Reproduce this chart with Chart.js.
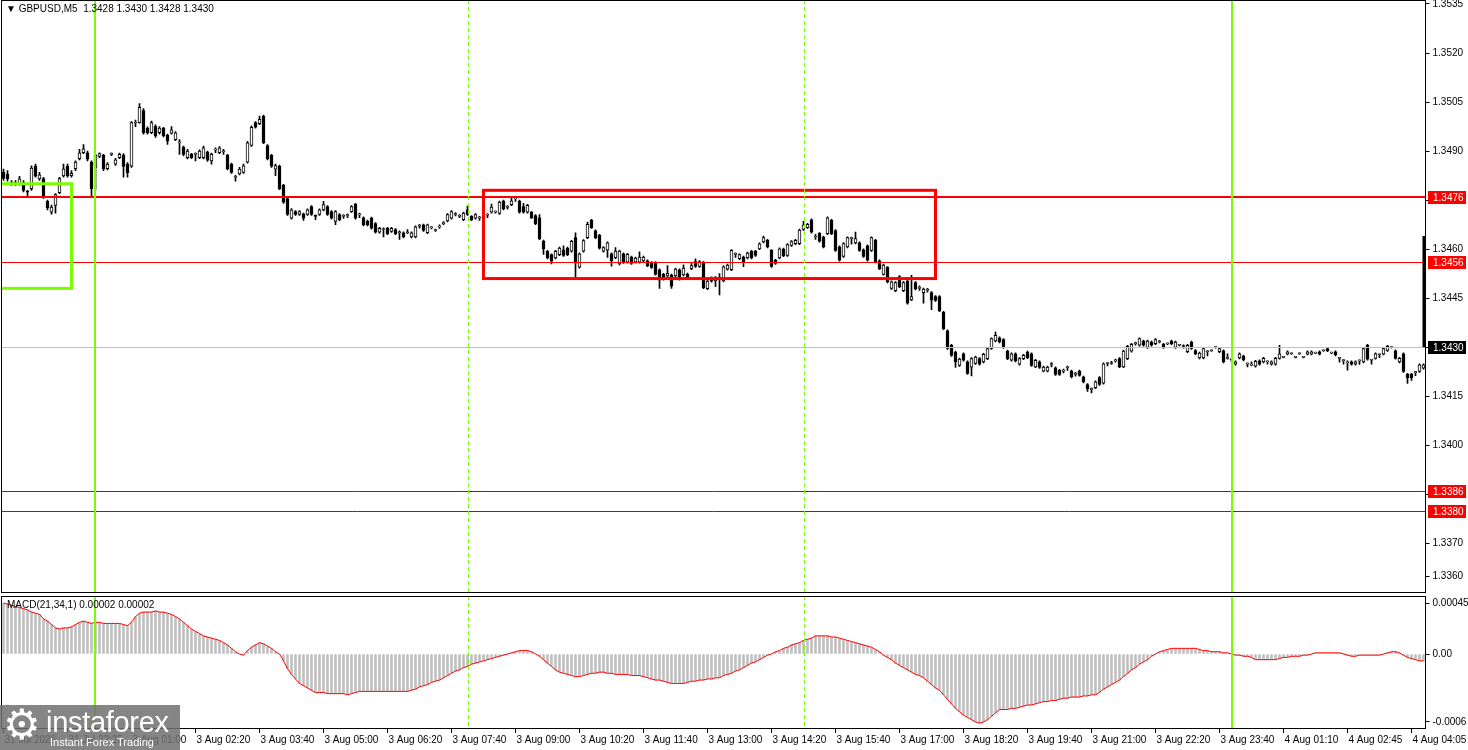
<!DOCTYPE html>
<html>
<head>
<meta charset="utf-8">
<title>GBPUSD M5</title>
<script src="https://cdn.jsdelivr.net/npm/chart.js@4.4.1/dist/chart.umd.min.js"></script>
<style>
  html, body { margin: 0; padding: 0; background: #fff; }
  #wrap { position: relative; width: 1468px; height: 750px; overflow: hidden; font-family: "Liberation Sans", Arial, sans-serif; }
  #main { position: absolute; left: 0; top: 0; width: 1468px; height: 593px; }
  #macd { position: absolute; left: 0; top: 595px; width: 1468px; height: 155px; }
  .label { position: absolute; font-size: 10px; color: #000; white-space: pre; }
  #logo { position: absolute; left: 0; top: 705px; width: 180px; height: 45px; background: rgba(112,112,112,0.85); color: #fff; }
  #logo .gear { position: absolute; left: 3px; top: -5px; font-size: 42px; font-family: "DejaVu Sans", sans-serif; }
  #logo .big { position: absolute; left: 46px; top: 1px; font-size: 29px; letter-spacing: -0.3px; }
  #logo .small { position: absolute; left: 50px; top: 31px; font-size: 11px; }
</style>
</head>
<body>
<div id="wrap">
  <div id="main"><canvas id="mainChart"></canvas></div>
  <div id="macd"><canvas id="macdChart"></canvas></div>
  <div class="label" style="left:6px;top:3px;">▼ GBPUSD,M5  1.3428 1.3430 1.3428 1.3430</div>
  <div class="label" style="left:7px;top:599px;">MACD(21,34,1) 0.00002 0.00002</div>
  <div id="logo"><span class="gear">⚙</span><span class="big">instaforex</span><span class="small">Instant Forex Trading</span></div>
</div>
<script>
// prices are in pips above BASE
const BASE = 1.3400;
const PIP = 0.0001;

const openPips = [
  83.6,83,80.3,80,80,80.4,77.6,78.5,85.4,81.5,
  81.6,74.6,71.3,73.4,77.3,82.4,85.4,82.5,84.6,87.7,
  89.5,89.5,86.6,85,88.4,88.7,84.6,89,86,88,
  88.7,86,85.4,98.6,98.7,102.4,97,95.6,97.6,95.6,
  97,94.8,95.5,93.5,92.5,91.2,88,89,89,88,
  88,89.7,87,90.3,89.5,89.8,88.7,86,82,83,
  83.5,86.6,91.7,98.7,98.4,100.7,91.7,88.7,84.5,85.4,
  79.5,75.5,69.5,71.5,70.6,70.8,70.6,73,70.2,70.6,
  72,73,71.5,68.5,70.6,70,70.3,71.5,73.7,70.5,
  69.6,68.6,69.5,67.8,65.2,66,66.4,65.4,66,65,
  65,65,63.7,63.7,67,67.4,65,66.5,65.7,66.8,
  67.8,68.6,69.5,70.6,70,69,72,70,69.5,69.5,
  69.5,70.4,71.3,71.3,70.9,74.7,72.8,73.6,75.4,74.7,
  73,71.3,71.3,70.3,69.6,62.5,59.3,58.3,57.3,58.3,
  59.8,60.3,59.4,63.5,54.5,59.4,63.5,68.8,65.6,64.2,
  59.4,59.7,58.6,57.4,55.5,58.6,56,57.6,56,56,
  56.4,56.4,55.9,55.9,53.7,52.3,51.8,52.1,51.8,53.7,
  52.1,52.4,54,56.2,54.7,56,47.9,51.2,50.3,51,
  50.3,53.9,53.7,58.4,57.1,57.6,57.3,59.3,59.3,60.1,
  62.2,62.7,59.6,56.6,57.3,60,58.1,61.1,61.7,61.7,
  66,66.6,69,63.7,64.8,63.7,64.7,68.8,65.7,60.7,
  57.8,60.7,63.2,61.9,61.9,59.8,61,59.6,62.7,56.4,
  52.3,54.4,48,47.3,51.6,47.3,50.2,44.5,49.8,48,
  46.7,47.4,46.7,45.5,45.5,40.7,35,30.6,28.5,24.4,
  28,25.5,23.9,25,26.5,25.5,26.5,29.6,31.9,32.9,
  32.3,28.8,26,28,24.8,26.5,28.5,28,24,25.5,
  22.7,22.7,24.7,23.7,22.9,22.7,23.7,22.7,21.7,22.7,
  20.9,18.6,17,17.6,20.7,19,25,25,25.8,26.5,
  24,26.5,28.8,31.1,30.6,31.9,29.9,31.6,31.1,31.6,
  30.9,31,31.9,29.9,30.6,30.3,28.6,31.6,29,26.7,
  26.7,28.6,28.9,29.9,28.6,28.9,26.6,26.2,24.8,26.7,
  27.3,24.8,24.5,24.2,25.8,25.5,25.5,24.8,24.8,26.6,
  26.9,27.9,28,26.9,28,26.9,27.9,27.9,28.2,28.6,
  28.9,29.6,28.2,28.6,26.6,25.9,25.2,25.5,24.8,25.8,
  25.5,30.6,26,26.6,27.7,27.9,29,29.9,28.9,25.5,
  28,21.7,21.7,22.2,22.6,23.6
];
const closePips = [
  81.6,81.5,80,80.2,81.5,78,77.4,84.8,82.3,82.7,
  75.9,72.6,72.9,76.7,81.6,84.6,82.4,83.2,86.6,89.5,
  90.7,87.5,78.5,88.8,89.2,84.6,86,89.2,87.3,89,
  85.3,83.4,98.7,98.8,103.4,95.6,95.6,98.7,94.6,97,
  94.7,93,96.5,95.6,92.7,89,90,88,89.2,90,
  91,87.2,89,90.5,91,90,84.6,83.5,82.2,84.5,
  85.5,92.5,97.3,97.3,99.7,92.6,87.6,85.4,85.6,78.5,
  74.4,70.6,72,70.6,71.5,69.5,72,70.6,70,72,
  73.6,70.6,69.5,71.5,69,70.1,70.4,73,69.5,70.6,
  67.4,67.4,66.4,65.2,66.4,66.1,64.7,66.4,64.7,65.1,
  63.7,65.1,65,66.8,67.1,65.7,67.4,66.6,65.8,66.9,
  67.9,70.6,71.5,70.7,70.1,71,70.6,69,70.6,69.6,
  70,70.5,72.9,71.4,74.4,72.3,72.9,74.8,75.5,71.3,
  71.3,73.4,69.6,67.8,63.2,60.1,57.3,56.3,59.3,60.3,
  58.1,58.3,62.4,55.7,58.6,62.6,67.6,66.6,63.5,60.3,
  60.5,61.9,56.4,59.4,59.4,55.9,58.4,55.6,57.3,57.6,
  57.6,54.9,54.4,52.3,50.5,50.8,52.6,48.7,53.9,50.8,
  54.2,51,55,54.7,56.2,48.2,50.2,50.2,51.3,51.1,
  54.6,55.1,59.6,58.5,58.3,56.2,58.8,57.3,58.1,61.6,
  63.5,60.7,54.7,55.6,60.1,58,61.4,62.3,62.7,65.8,
  67.4,67.6,65.2,63.8,62.4,60.7,69.6,64.7,59.6,56.6,
  61.7,63.5,63.3,63.2,59.6,57.8,56.6,63.5,56.1,54,
  55.1,50,50,49.8,48.5,49.8,43.5,45.5,47.8,48.1,
  47.8,47.5,44.4,44.3,41.2,35.7,29.6,27.5,25.5,26.4,
  26,22,26.5,27,24.8,27.8,29.6,32.6,33.6,31.6,
  29.9,26.5,28,25.8,26.5,27.5,26.8,24.4,26,23.8,
  23.9,23.9,24.8,21.7,21.7,22.8,23.8,20.9,21.8,21.4,
  19.4,17.3,17.1,19.4,18.6,24.9,25.1,25.1,25.9,24,
  28.8,30.3,30.9,31.2,32.6,30.6,31.9,30.6,32.3,31.7,
  29.9,31.1,31.1,31.6,30.7,30.2,30.6,29.6,28,28.2,
  29.6,28.7,29,30,29.6,25.5,26.7,26,25.5,28,
  26.1,24.9,24.6,25.7,24.8,26.6,25.6,25.5,26.6,28,
  27,28.6,28.1,27,28.1,27,28.6,28.6,28.3,27.9,
  29,28.9,28.3,27.6,26.7,26,25.3,24.8,25.5,25.9,
  29.6,26.3,26.1,28,27.8,29.6,30.3,30,26.6,26.6,
  22.6,20.6,20.6,22.3,24.6,24.6
];
const highPips = [
  84.5,84,81,81,82.3,81,78,85.5,86,83.5,
  82,75,73.5,77,82,86,86,84,87,90.5,
  92,90,87,89,89.5,89,86.5,89.5,87.8,89.4,
  89.2,86.5,99,99.5,104.5,103,97.4,99.2,98,97.5,
  97.3,95.2,97.5,96,93.5,91.5,90.5,89.3,89.5,90.4,
  91.5,90,89.4,91,91.4,90.5,89,86.3,82.6,85,
  86,93,97.7,99,100.7,101,92,89,86,85.7,
  79.8,75.8,72.4,71.8,71.8,71,72.3,73.3,70.5,72.3,
  74.6,73.3,71.8,71.8,70.9,70.6,70.8,73.3,74,71,
  69.9,68.9,69.8,68.1,66.7,66.5,66.7,66.7,66.3,65.6,
  65.3,66,65.3,67.1,67.6,67.7,67.7,66.9,66.1,67.4,
  68.4,70.9,71.8,71.2,70.6,71.3,73.2,70.3,70.9,70,
  70.4,70.9,73.8,71.7,74.7,75,73.3,75.8,76,75,
  74,73.7,71.6,70.6,70.6,62.8,59.6,58.6,59.6,60.6,
  61,60.6,62.7,65,58.9,62.9,68.3,69.1,65.9,64.5,
  60.8,62.2,58.9,60.5,59.7,58.9,58.7,57.9,57.6,59.2,
  57.9,56.7,56.2,56.2,54,52.6,55,52.4,54.2,54,
  55.2,52.7,56,57,56.5,56.3,50.5,51.5,51.6,52.5,
  54.9,55.4,59.9,58.9,58.6,57.9,59.1,59.6,59.6,61.9,
  64,63,59.9,56.9,60.4,60.3,61.7,62.6,63,66.1,
  68.5,67.9,69.3,64.5,65.1,64,69.9,69.1,66,61,
  62,63.8,63.7,65.2,62.2,60.1,61.3,63.8,63,56.7,
  55.4,54.7,50.3,50.1,51.9,50.1,50.5,52,50.1,48.8,
  48.1,48,47,45.8,45.8,41,35.3,30.9,28.8,26.7,
  28.3,25.8,26.8,27.3,26.8,28.1,29.9,32.9,34.6,33.2,
  32.6,29.1,28.3,28.3,26.8,27.8,28.8,28.3,26.3,25.8,
  24.2,24.2,25.3,24,23.2,23.3,24.2,23,22.3,23,
  21.2,18.9,17.6,19.7,21,25.2,25.3,25.7,26.4,26.8,
  29.1,30.6,31.2,31.6,32.9,32.2,32.2,31.9,32.6,32.1,
  31.2,31.3,32.2,31.9,30.9,30.7,30.9,31.9,29.3,28.5,
  29.9,29,29.2,30.2,29.9,29.2,28,26.6,25.8,28.3,
  27.6,25.2,25.5,26,26.1,26.9,25.8,25.8,26.9,30.6,
  27.2,28.9,28.3,27.2,28.3,27.2,28.9,28.9,28.5,28.9,
  29.2,29.9,28.5,28.9,26.9,26.2,25.8,25.8,25.8,26.1,
  29.9,30.9,26.3,28.3,28,29.9,30.6,30.2,29.2,26.9,
  28.3,22,22,22.6,24.9,24.9
];
const lowPips = [
  81,80.8,79.5,79.5,79.6,77.5,76,78,82,81,
  75.5,72,70.7,71,77,82,82,82,84,87.3,
  89.2,87,76,78.3,88,84,84.2,88.6,85.6,87.7,
  82,82,85,97.5,98.5,95.2,95.2,95.3,94.2,95.2,
  94.3,92,95.2,93.2,89,88.5,87.6,87.7,87,87.7,
  87.6,86.8,86,89.5,89.2,89,84.2,83.2,80.8,82.7,
  83.2,86.3,91.4,97,98.1,92.3,87.3,85,82.5,78.2,
  74,70.3,69.2,70.3,70.3,68.8,70.3,70.3,69,70.3,
  71.7,70.3,69.2,67.5,68.7,69.4,69.6,71.2,69.2,69.6,
  67.1,67.1,66.1,64.9,64.9,63.7,64.4,65.1,64.4,63,
  63.4,64.7,63.4,63.4,66.4,65.4,64.7,66.2,65.4,66.3,
  67.5,68.3,69.2,70.2,69.6,68.7,70.3,68.7,69.2,68.8,
  69.2,69.6,71,71,70.6,72,72.2,73.3,74.6,71,
  71,71,69.3,67.5,62.9,58.4,57,55.5,57,58,
  57.8,58,59.1,51.4,54.2,59.1,63.2,66.3,63.2,60,
  59.1,57.5,54.8,57.1,55.2,55.6,55.7,55.3,55.7,55.7,
  56.1,54.6,54.1,52,48,50.5,51.5,48,51.5,50.5,
  51.8,50.7,53.7,54.4,54.4,47.9,47.6,49.9,48.5,46,
  50,53.6,53.4,57.5,56.8,54.6,57,57,57.8,59.8,
  61.9,60.4,54.4,55.3,57,57.7,57.8,60.8,61.4,61.4,
  65.7,66.3,64.9,63,62.1,60.4,64.4,64.4,59.3,56.3,
  57.5,60.4,61.5,61.6,59.3,57.5,56.3,59.3,55.8,53.7,
  52,49.7,47.7,47,48.2,47,43.2,44.2,47.5,47.4,
  43.5,46.8,41.5,44,40.9,35.4,29.3,27.2,23.8,24.1,
  25.7,21.7,21.2,24.7,24.5,25.2,26.2,29.3,31.6,31.3,
  29.6,26.2,25.7,25.5,24.5,26.2,26.5,24.1,23.7,23.5,
  22.4,22.4,24,21.4,21.4,22.1,22.9,20.6,21.1,21.1,
  19.1,16.5,16,17.3,18.3,18.7,24.3,24.7,25.4,23.7,
  23.7,26.2,28.5,30.6,30.3,30.3,29.6,30.3,30.8,31.3,
  29.6,30.8,30.8,29.6,30.4,29.7,28.3,29.3,27.7,26.4,
  26.4,27.3,28.7,29.7,28.3,25.2,26.3,25.6,24.5,26.4,
  25.8,24,24.3,23.9,24.5,25.2,24.8,24.5,24.5,26.3,
  26.7,27.6,27.8,26.7,27.8,26.7,27.6,27.6,28,27.6,
  28.7,28.6,28,27.3,25.4,24.8,23,24.5,24.5,24.7,
  25.2,26,24.8,26.3,26.8,27.6,28.7,29.7,26.3,25.2,
  22.3,18.9,19.8,21.3,22.3,23.3
];

// MACD(21,34,1) main line, in units of 0.00001
const macdE5 = [
  45,44,43,42,41,40,39,37,36,35,
  31,29,26,23,22,23,23,24,26,28,
  29,28,27,28,28,27,27,27,27,27,
  26,25,28,33,36,37,37,37,38,37,
  37,36,35,33,31,28,25,22,20,18,
  16,15,14,13,12,10,8,5,2,0,
  -1,3,6,8,10,9,7,5,2,0,
  -6,-13,-18,-22,-26,-28,-30,-32,-34,-34,
  -34,-35,-35,-35,-35,-35,-36,-35,-34,-33,
  -33,-33,-33,-33,-33,-33,-33,-33,-33,-33,
  -33,-33,-32,-31,-29,-28,-27,-25,-24,-23,
  -21,-19,-17,-15,-14,-12,-11,-9,-8,-7,
  -6,-5,-4,-3,-2,-1,0,1,2,3,
  3,3,2,0,-2,-5,-8,-11,-14,-16,
  -17,-18,-19,-20,-20,-19,-18,-17,-17,-16,
  -16,-17,-17,-18,-18,-18,-18,-19,-19,-19,
  -20,-21,-22,-23,-23,-24,-25,-26,-26,-26,
  -26,-25,-24,-24,-23,-23,-22,-22,-21,-21,
  -19,-18,-17,-15,-14,-12,-10,-8,-7,-5,
  -3,-1,0,2,3,5,6,8,9,10,
  12,13,14,16,16,16,16,15,15,14,
  13,12,11,10,9,8,7,6,4,2,
  -1,-3,-5,-8,-10,-12,-14,-16,-18,-19,
  -21,-24,-27,-30,-32,-36,-40,-44,-48,-51,
  -54,-56,-58,-60,-61,-60,-58,-55,-52,-49,
  -49,-49,-48,-48,-47,-46,-45,-45,-44,-43,
  -42,-42,-41,-41,-40,-39,-39,-38,-38,-38,
  -37,-37,-36,-36,-34,-31,-29,-27,-25,-23,
  -20,-17,-14,-12,-9,-7,-5,-2,0,2,
  3,4,5,5,5,5,5,5,5,4,
  3,3,2,2,2,1,1,0,-1,-1,
  -2,-2,-3,-5,-5,-5,-5,-5,-5,-4,
  -3,-3,-2,-2,-2,-1,-1,0,1,1,
  1,1,1,1,1,0,-1,-2,-2,-1,
  -1,-1,-1,-1,-1,0,1,2,2,1,
  -1,-3,-4,-5,-6,-6
];

// a time label every 16 bars
const timeLabels = [
  "31 Jul 2026", "31 Jul 22:25", "3 Aug 01:00", "3 Aug 02:20", "3 Aug 03:40",
  "3 Aug 05:00", "3 Aug 06:20", "3 Aug 07:40", "3 Aug 09:00", "3 Aug 10:20",
  "3 Aug 11:40", "3 Aug 13:00", "3 Aug 14:20", "3 Aug 15:40", "3 Aug 17:00",
  "3 Aug 18:20", "3 Aug 19:40", "3 Aug 21:00", "3 Aug 22:20", "3 Aug 23:40",
  "4 Aug 01:10", "4 Aug 02:45", "4 Aug 04:05"
];
const LABEL_STEP = 16;

const priceTicks = [1.3535, 1.3520, 1.3505, 1.3490, 1.3475, 1.3460, 1.3445, 1.3430, 1.3415, 1.3400, 1.3385, 1.3370, 1.3360];
const macdTicks = [0.00045, 0, -0.0006];
const macdTickLabels = ["0.00045", "0.00", "-0.0006"];

// chart objects
const redLevels = [1.3476, 1.3456];
const lowerLevels = [1.3386, 1.3380];
const bidPrice = 1.3430;
const greenLines = [23, 307];          // bar index
const separators = [116.1, 200.1];     // bar index
const rangeBox = { from: 120, to: 233, top: 1.3478, bottom: 1.3451 };
const greenBox = { from: -4, to: 17, top: 1.3480, bottom: 1.3448 };
const sideBar = [1.3430, 1.3464];

const bars = openPips.map((_, i) => i);
const toPrice = p => BASE + p * PIP;

const bodies = openPips.map((o, i) => [toPrice(o), toPrice(closePips[i])]);
const wicks = lowPips.map((l, i) => [toPrice(l), toPrice(highPips[i])]);
const bodyFill = openPips.map((o, i) => closePips[i] >= o ? '#ffffff' : '#000000');

const FONT = { family: '"Liberation Sans", Arial, sans-serif', size: 10 };
const SEP_STYLE = { color: '#7cfc00', width: 1, dash: [4, 3] };

const chartMarks = {
  id: 'chartMarks',
  afterDatasetsDraw(chart, args, o) {
    const { ctx, chartArea: a, scales: { x, y } } = chart;
    ctx.save();
    ctx.beginPath();
    ctx.rect(a.left, a.top, a.right - a.left, a.bottom - a.top);
    ctx.clip();

    (o.hLines || []).forEach(l => {
      let py = Math.round(y.getPixelForValue(l.value));
      if (l.width % 2) py += 0.5;
      ctx.strokeStyle = l.color;
      ctx.lineWidth = l.width;
      ctx.setLineDash([]);
      ctx.beginPath();
      ctx.moveTo(a.left, py);
      ctx.lineTo(a.right, py);
      ctx.stroke();
    });

    (o.boxes || []).forEach(b => {
      const x1 = x.getPixelForValue(b.from), x2 = x.getPixelForValue(b.to);
      const y1 = y.getPixelForValue(b.top), y2 = y.getPixelForValue(b.bottom);
      ctx.strokeStyle = b.color;
      ctx.lineWidth = b.width;
      ctx.setLineDash([]);
      ctx.strokeRect(x1, y1, x2 - x1, y2 - y1);
    });

    (o.vLines || []).forEach(v => {
      let px = Math.round(x.getPixelForValue(v.index));
      if (v.width % 2) px += 0.5;
      ctx.strokeStyle = v.color;
      ctx.lineWidth = v.width;
      ctx.setLineDash(v.dash || []);
      ctx.beginPath();
      ctx.moveTo(px, a.top);
      ctx.lineTo(px, a.bottom);
      ctx.stroke();
    });
    ctx.setLineDash([]);

    if (o.sideBar) {
      const y1 = y.getPixelForValue(o.sideBar[1]), y2 = y.getPixelForValue(o.sideBar[0]);
      ctx.fillStyle = '#000';
      ctx.fillRect(a.right - 3, y1, 3, y2 - y1);
    }
    ctx.restore();
  },
  afterDraw(chart, args, o) {
    const { ctx, chartArea: a, scales: { y } } = chart;
    ctx.save();
    ctx.strokeStyle = '#000';
    ctx.lineWidth = 1;
    ctx.strokeRect(a.left, a.top + 0.5, a.right - a.left, a.bottom - a.top - 1);

    (o.tags || []).forEach(t => {
      const py = Math.round(y.getPixelForValue(t.value));
      ctx.fillStyle = t.bg;
      ctx.fillRect(Math.round(a.right) + 2, py - 6, 38, 13);
      ctx.fillStyle = '#fff';
      ctx.font = '10px "Liberation Sans", Arial, sans-serif';
      ctx.textBaseline = 'middle';
      ctx.textAlign = 'left';
      ctx.fillText(t.value.toFixed(4), Math.round(a.right) + 7, py + 1);
    });
    ctx.restore();
  }
};

new Chart(document.getElementById('mainChart'), {
  type: 'bar',
  data: {
    labels: bars,
    datasets: [
      {
        label: 'wick',
        data: wicks,
        backgroundColor: '#000',
        barThickness: 1,
        grouped: false,
        order: 2
      },
      {
        label: 'body',
        data: bodies,
        backgroundColor: bodyFill,
        borderColor: '#000',
        borderWidth: 1,
        borderSkipped: false,
        barThickness: 3,
        minBarLength: 1,
        grouped: false,
        order: 1
      }
    ]
  },
  options: {
    responsive: true,
    maintainAspectRatio: false,
    devicePixelRatio: 1,
    animation: false,
    layout: { padding: { left: 1.5, right: 0, top: 0, bottom: 0 } },
    plugins: {
      legend: { display: false },
      tooltip: { enabled: false },
      chartMarks: {
        hLines: [
          { value: bidPrice, color: '#c0c0c0', width: 1 },
          { value: redLevels[0], color: '#ff0000', width: 2 },
          { value: redLevels[1], color: '#ff0000', width: 1 },
          { value: lowerLevels[0], color: '#d40000', width: 1 },
          { value: lowerLevels[1], color: '#d40000', width: 1 }
        ],
        boxes: [
          Object.assign({ color: '#ff0000', width: 3 }, rangeBox),
          Object.assign({ color: '#7cfc00', width: 3 }, greenBox)
        ],
        vLines: [
          Object.assign({ index: separators[0] }, SEP_STYLE),
          Object.assign({ index: separators[1] }, SEP_STYLE),
          { index: greenLines[0], color: '#7cfc00', width: 2 },
          { index: greenLines[1], color: '#7cfc00', width: 2 }
        ],
        sideBar: sideBar,
        tags: [
          { value: redLevels[0], bg: '#ff0000' },
          { value: redLevels[1], bg: '#ff0000' },
          { value: bidPrice, bg: '#000000' },
          { value: lowerLevels[0], bg: '#ff0000' },
          { value: lowerLevels[1], bg: '#ff0000' }
        ]
      }
    },
    scales: {
      x: {
        type: 'category',
        display: false,
        offset: true
      },
      y: {
        position: 'right',
        min: 1.33548,
        max: 1.353622,
        afterBuildTicks: s => { s.ticks = priceTicks.map(v => ({ value: v })); },
        afterFit: s => { s.width = 42.5; s.paddingTop = 0; s.paddingBottom = 0; },
        border: { display: false },
        grid: { drawOnChartArea: false, drawTicks: true, tickLength: 4, color: '#000' },
        ticks: {
          color: '#000',
          font: FONT,
          padding: 3,
          callback: v => v.toFixed(4)
        }
      }
    }
  },
  plugins: [chartMarks]
});

new Chart(document.getElementById('macdChart'), {
  type: 'bar',
  data: {
    labels: bars,
    datasets: [
      {
        type: 'line',
        label: 'signal',
        data: macdE5.map(v => v * 1e-5),
        borderColor: '#ff0000',
        borderWidth: 1,
        pointRadius: 0,
        tension: 0,
        order: 1
      },
      {
        label: 'MACD',
        data: macdE5.map(v => v * 1e-5),
        backgroundColor: '#c0c0c0',
        barThickness: 2,
        order: 2
      }
    ]
  },
  options: {
    responsive: true,
    maintainAspectRatio: false,
    devicePixelRatio: 1,
    animation: false,
    layout: { padding: { left: 1.5, right: 0, top: 1, bottom: 0 } },
    plugins: {
      legend: { display: false },
      tooltip: { enabled: false },
      chartMarks: {
        vLines: [
          Object.assign({ index: separators[0] }, SEP_STYLE),
          Object.assign({ index: separators[1] }, SEP_STYLE),
          { index: greenLines[0], color: '#7cfc00', width: 2 },
          { index: greenLines[1], color: '#7cfc00', width: 2 }
        ]
      }
    },
    scales: {
      x: {
        type: 'category',
        offset: true,
        afterFit: s => { s.height = 21; s.paddingLeft = 0; s.paddingRight = 0; },
        border: { display: false },
        grid: {
          offset: false,
          drawOnChartArea: false,
          drawTicks: true,
          tickLength: 4,
          color: c => (c.index % LABEL_STEP === 0 ? '#000' : 'rgba(0,0,0,0)')
        },
        ticks: {
          autoSkip: false,
          maxRotation: 0,
          minRotation: 0,
          align: 'start',
          labelOffset: 1,
          padding: 1,
          color: '#000',
          font: FONT,
          callback: (v, i) => (i % LABEL_STEP === 0 ? timeLabels[i / LABEL_STEP] : '')
        }
      },
      y: {
        position: 'right',
        min: -0.000662,
        max: 0.000512,
        afterBuildTicks: s => { s.ticks = macdTicks.map(v => ({ value: v })); },
        afterFit: s => { s.width = 42.5; s.paddingTop = 0; s.paddingBottom = 0; },
        border: { display: false },
        grid: { drawOnChartArea: false, drawTicks: true, tickLength: 4, color: '#000' },
        ticks: {
          color: '#000',
          font: FONT,
          padding: 3,
          callback: (v, i) => macdTickLabels[i]
        }
      }
    }
  },
  plugins: [chartMarks]
});
</script>
</body>
</html>
